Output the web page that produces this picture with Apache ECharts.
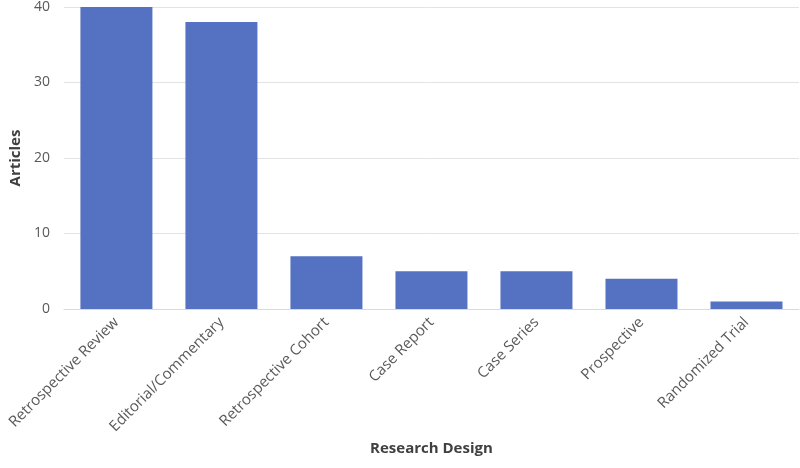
<!DOCTYPE html>
<html>
<head>
<meta charset="utf-8" />
<title>Research Design</title>
<script src="https://cdn.jsdelivr.net/npm/echarts@6/dist/echarts.min.js"></script>
<style>
  html, body { margin: 0; padding: 0; background: #fff; }
  #chart { width: 800px; height: 468px; }
</style>
</head>
<body>
<div id="chart"></div>
<script>
var categories = ['Retrospective Review', 'Editorial/Commentary', 'Retrospective Cohort',
  'Case Report', 'Case Series', 'Prospective', 'Randomized Trial'];
var articles = [40, 38, 7, 5, 5, 4, 1];
var yTicks = [0, 10, 20, 30, 40];

var chart = echarts.init(document.getElementById('chart'));
var font = '"Open Sans", "Noto Sans", sans-serif';

chart.setOption({
  backgroundColor: '#fff',
  animation: false,
  grid: { left: 58, right: 1, top: 7, bottom: 159 },
  xAxis: {
    type: 'category',
    data: categories,
    name: 'Research Design',
    nameLocation: 'middle',
    nameGap: 131,
    nameTextStyle: { fontFamily: font, fontSize: 15, fontWeight: 'bold', color: '#404040' },
    axisLine: { lineStyle: { color: '#d9d9d9' } },
    axisTick: { show: false },
    axisLabel: {
      interval: 0, rotate: 45, margin: 11,
      fontFamily: font, fontSize: 15, color: '#595959'
    }
  },
  yAxis: {
    type: 'value',
    min: yTicks[0],
    max: yTicks[yTicks.length - 1],
    interval: 10,
    name: 'Articles',
    nameLocation: 'middle',
    nameGap: 33,
    nameTextStyle: { fontFamily: font, fontSize: 15, fontWeight: 'bold', color: '#404040' },
    axisLine: { show: false },
    axisTick: { show: false },
    axisLabel: { fontFamily: font, fontSize: 14, color: '#595959', margin: 14 },
    splitLine: { lineStyle: { color: '#e3e3e3' } }
  },
  series: [{
    type: 'bar',
    data: articles,
    barWidth: 72,
    itemStyle: { color: '#5572c2' }
  }]
});
</script>
</body>
</html>
